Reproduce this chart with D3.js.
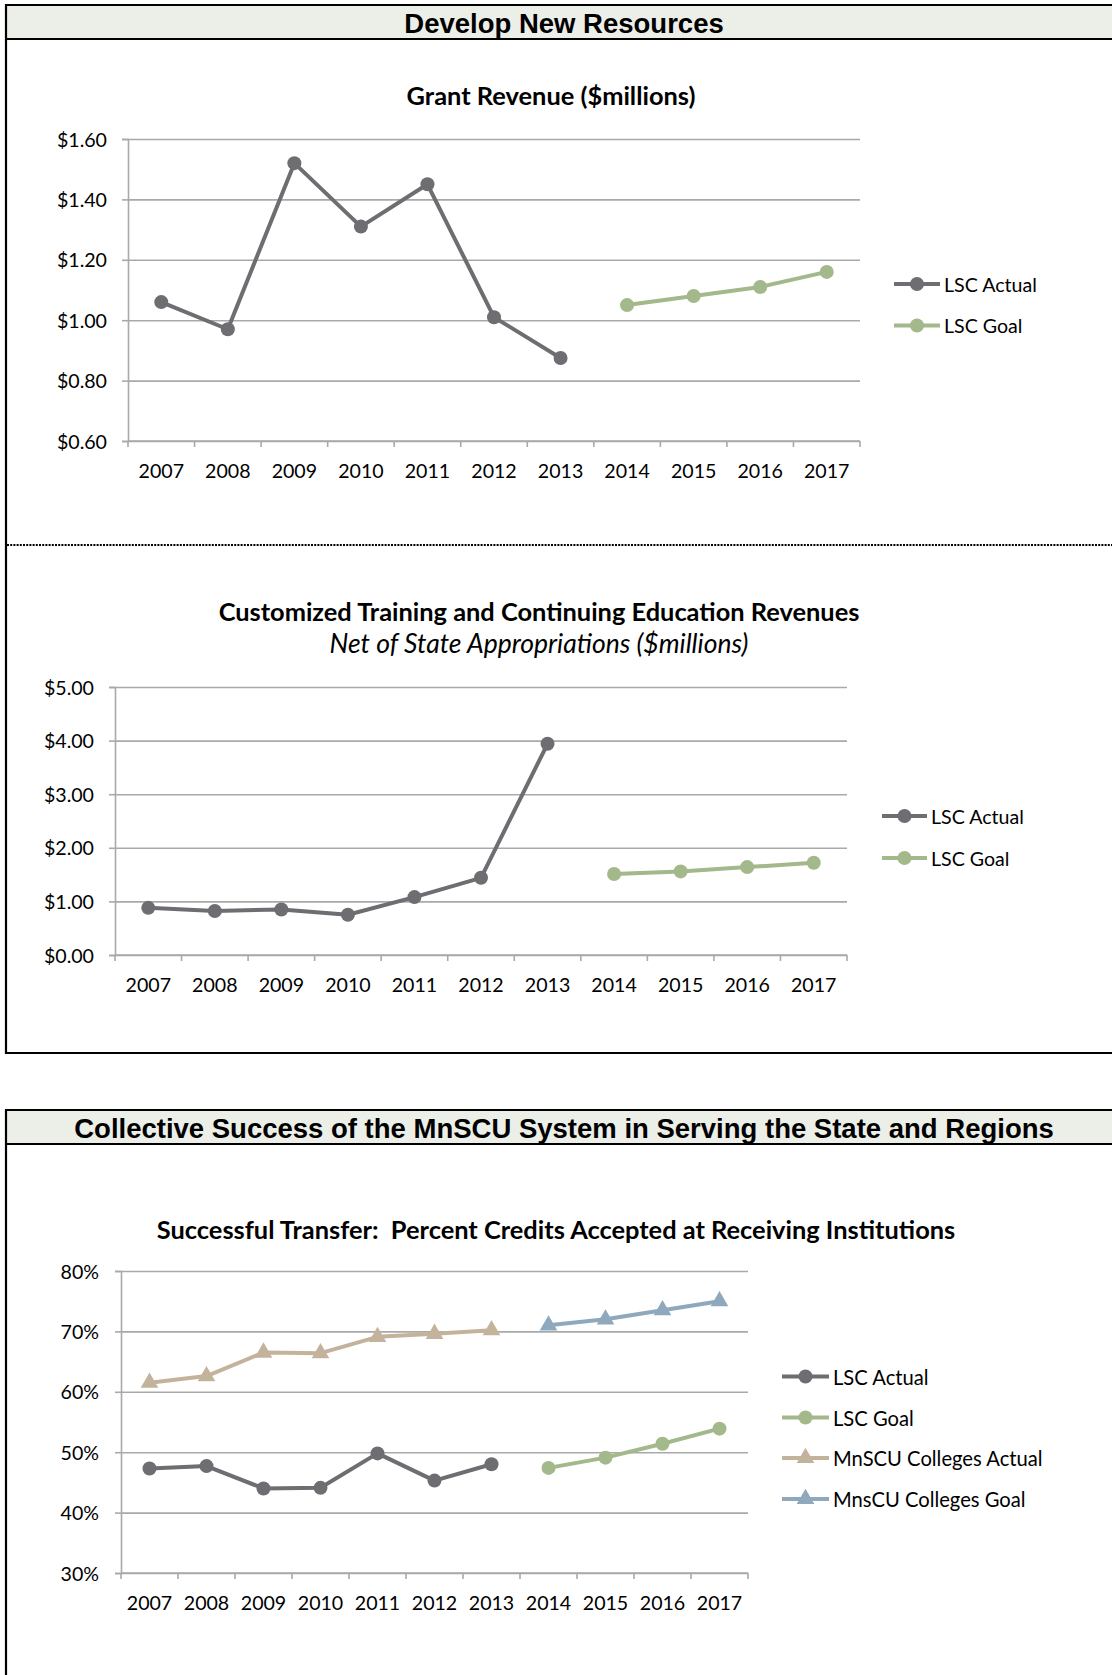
<!DOCTYPE html>
<html>
<head>
<meta charset="utf-8">
<script src="https://cdnjs.cloudflare.com/ajax/libs/d3/7.8.5/d3.min.js"></script>
<style>
  html, body { margin: 0; padding: 0; background: #fff; }
  svg { display: block; }
  text { font-family: Lato, "Open Sans", sans-serif; fill: #000; }
  .hdr { font-family: "Liberation Sans", Arial, sans-serif; font-weight: bold; }
</style>
</head>
<body>
<svg id="c" width="1112" height="1675"></svg>
<script>
// ---------- DATA ----------
const years = ["2007","2008","2009","2010","2011","2012","2013","2014","2015","2016","2017"];
const actualYears = ["2007","2008","2009","2010","2011","2012","2013"];
const goalYears = ["2014","2015","2016","2017"];

// Grant Revenue ($millions)
const grantActual = [1.06, 0.97, 1.52, 1.31, 1.45, 1.01, 0.875];
const grantGoal = [1.05, 1.08, 1.11, 1.16];
const grantTicks = [0.6, 0.8, 1.0, 1.2, 1.4, 1.6];

// Customized Training and Continuing Education Revenues ($millions)
const ctActual = [0.88, 0.82, 0.85, 0.75, 1.08, 1.44, 3.94];
const ctGoal = [1.51, 1.56, 1.64, 1.72];
const ctTicks = [0, 1, 2, 3, 4, 5];

// Successful Transfer (%)
const lscTransferActual = [47.3, 47.7, 44.0, 44.1, 49.8, 45.3, 48.0];
const lscTransferGoal = [47.4, 49.1, 51.4, 53.9];
const mnscuActual = [61.5, 62.6, 66.5, 66.4, 69.1, 69.6, 70.2];
const mnscuGoal = [71.0, 72.0, 73.5, 75.0];
const pctTicks = [30, 40, 50, 60, 70, 80];

const seriesNames = ["LSC Actual", "LSC Goal", "MnSCU Colleges Actual", "MnsCU Colleges Goal"];

// ---------- STYLE ----------
const C_GRAY = "#6d6d72", C_GREEN = "#a3b88b", C_TAN = "#c4b39c", C_BLUE = "#8ea9bd";
const GRID = "#a9a9a9";
const FS = 19.6;
const TFS = 25.4;

const svg = d3.select("#c");

// ---------- FRAMES ----------
function hline(x1, x2, y, w) {
  svg.append("line").attr("x1", x1).attr("x2", x2).attr("y1", y).attr("y2", y)
    .attr("stroke", "#000").attr("stroke-width", w);
}
function vline(x, y1, y2, w) {
  svg.append("line").attr("x1", x).attr("x2", x).attr("y1", y1).attr("y2", y2)
    .attr("stroke", "#000").attr("stroke-width", w);
}
function header(top, bottom, label) {
  svg.append("rect").attr("x", 6).attr("y", top).attr("width", 1112).attr("height", bottom - top)
    .attr("fill", "#eceee8");
  hline(5, 1112, top, 2.2);
  hline(5, 1112, bottom, 2.2);
  svg.append("text").attr("class", "hdr").attr("x", 564).attr("y", (top + bottom) / 2 + 1)
    .attr("text-anchor", "middle").attr("dominant-baseline", "central")
    .attr("font-size", 27.5).text(label);
}
header(5, 39, "Develop New Resources");
vline(6, 4, 1054, 2.2);
hline(5, 1112, 1053, 2.2);
svg.append("line").attr("x1", 7).attr("x2", 1112).attr("y1", 545).attr("y2", 545)
  .attr("stroke", "#000").attr("stroke-width", 2).attr("stroke-dasharray", "2,1.2");

header(1110, 1144, "Collective Success of the MnSCU System in Serving the State and Regions");
vline(6, 1109, 1675, 2.2);

// ---------- CHART ----------
function chart(cfg) {
  const x = d3.scaleBand().domain(years).range([cfg.left, cfg.right]).padding(0);
  const y = d3.scaleLinear().domain(cfg.domain).range([cfg.bottom, cfg.top]);
  const g = svg.append("g");

  // gridlines
  g.append("g").attr("transform", `translate(${cfg.left},0)`)
    .call(d3.axisLeft(y).tickValues(cfg.ticks).tickSize(-(cfg.right - cfg.left)).tickFormat(""))
    .call(s => s.select(".domain").remove())
    .call(s => s.selectAll("line").attr("stroke", GRID).attr("stroke-width", 1.6));

  // y axis (outer ticks + labels)
  g.append("g").attr("transform", `translate(${cfg.left},0)`)
    .call(d3.axisLeft(y).tickValues(cfg.ticks).tickSize(6).tickPadding(cfg.ypad).tickFormat(cfg.fmt))
    .call(s => s.select(".domain").attr("stroke", GRID).attr("stroke-width", 1.6))
    .call(s => s.selectAll("line").attr("stroke", GRID).attr("stroke-width", 1.6))
    .call(s => s.selectAll("text").attr("font-size", FS).attr("fill", "#000")
      .attr("font-family", "Lato, sans-serif").attr("dy", "0.36em"));

  // x axis baseline with category boundary ticks
  const bounds = years.map(d => x(d)).concat([cfg.right]);
  g.append("line").attr("x1", cfg.left).attr("x2", cfg.right)
    .attr("y1", cfg.bottom).attr("y2", cfg.bottom).attr("stroke", GRID).attr("stroke-width", 1.6);
  g.selectAll(".bt").data(bounds).join("line")
    .attr("x1", d => d).attr("x2", d => d)
    .attr("y1", cfg.bottom).attr("y2", cfg.bottom + 6)
    .attr("stroke", GRID).attr("stroke-width", 1.6);
  // year labels
  g.append("g").attr("transform", `translate(0,${cfg.bottom})`)
    .call(d3.axisBottom(x).tickSize(0).tickPadding(cfg.xpad))
    .call(s => s.select(".domain").remove())
    .call(s => s.selectAll("text").attr("font-size", FS).attr("fill", "#000")
      .attr("font-family", "Lato, sans-serif"));

  // series
  const cx = d => x(d) + x.bandwidth() / 2;
  cfg.series.forEach(sr => {
    const pts = sr.years.map((yr, i) => [cx(yr), y(sr.values[i])]);
    g.append("path").attr("d", d3.line()(pts)).attr("fill", "none")
      .attr("stroke", sr.color).attr("stroke-width", 4).attr("stroke-linejoin", "round");
    drawMarkers(g, pts, sr);
  });

  // legend
  cfg.series.forEach((sr, i) => {
    const ly = cfg.legendY[i];
    const lg = svg.append("g");
    lg.append("line").attr("x1", cfg.legendX).attr("x2", cfg.legendX + cfg.legendLen)
      .attr("y1", ly).attr("y2", ly).attr("stroke", sr.color).attr("stroke-width", 4);
    drawMarkers(lg, [[cfg.legendX + cfg.legendLen / 2, ly]], sr);
    lg.append("text").attr("x", cfg.legendX + cfg.legendLen + 4).attr("y", ly)
      .attr("dominant-baseline", "central").attr("font-size", cfg.legendFS || FS).text(sr.name);
  });

  // titles
  svg.append("text").attr("x", cfg.titleX).attr("y", cfg.titleY)
    .attr("text-anchor", "middle").attr("dominant-baseline", "central")
    .style("white-space", "pre")
    .attr("font-size", TFS).attr("font-weight", "bold").text(cfg.title);
  if (cfg.subtitle) {
    svg.append("text").attr("x", cfg.titleX).attr("y", cfg.subtitleY)
      .attr("text-anchor", "middle").attr("dominant-baseline", "central")
      .attr("font-size", 26.5).attr("font-style", "italic").text(cfg.subtitle);
  }
}

function drawMarkers(g, pts, sr) {
  if (sr.shape === "tri") {
    const sym = d3.symbol().type(d3.symbolTriangle).size(135);
    g.selectAll(null).data(pts).join("path")
      .attr("d", sym).attr("transform", d => `translate(${d[0]},${d[1]})`).attr("fill", sr.color);
  } else {
    g.selectAll(null).data(pts).join("circle")
      .attr("cx", d => d[0]).attr("cy", d => d[1]).attr("r", 7).attr("fill", sr.color);
  }
}

const money = d => "$" + d3.format(".2f")(d);

chart({
  left: 128, right: 860, top: 139, bottom: 441,
  domain: [0.6, 1.6], ticks: grantTicks, fmt: money, ypad: 15, xpad: 23,
  title: "Grant Revenue ($millions)", titleX: 551, titleY: 95,
  legendX: 894, legendLen: 46, legendY: [284, 325.5],
  series: [
    { name: seriesNames[0], years: actualYears, values: grantActual, color: C_GRAY, shape: "circle" },
    { name: seriesNames[1], years: goalYears, values: grantGoal, color: C_GREEN, shape: "circle" }
  ]
});

chart({
  left: 115, right: 847, top: 687, bottom: 955,
  domain: [0, 5], ticks: ctTicks, fmt: money, ypad: 15, xpad: 23,
  title: "Customized Training and Continuing Education Revenues", titleX: 539, titleY: 611,
  subtitle: "Net of State Appropriations ($millions)", subtitleY: 643,
  legendX: 882, legendLen: 45, legendY: [816, 858],
  series: [
    { name: seriesNames[0], years: actualYears, values: ctActual, color: C_GRAY, shape: "circle" },
    { name: seriesNames[1], years: goalYears, values: ctGoal, color: C_GREEN, shape: "circle" }
  ]
});

chart({
  left: 121, right: 748, top: 1271, bottom: 1573,
  domain: [30, 80], ticks: pctTicks, fmt: d => d + "%", ypad: 16, xpad: 23,
  title: "Successful Transfer:  Percent Credits Accepted at Receiving Institutions", titleX: 556, titleY: 1229,
  legendX: 782, legendLen: 47, legendY: [1376.5, 1417.5, 1458, 1499], legendFS: 20.2,
  series: [
    { name: seriesNames[0], years: actualYears, values: lscTransferActual, color: C_GRAY, shape: "circle" },
    { name: seriesNames[1], years: goalYears, values: lscTransferGoal, color: C_GREEN, shape: "circle" },
    { name: seriesNames[2], years: actualYears, values: mnscuActual, color: C_TAN, shape: "tri" },
    { name: seriesNames[3], years: goalYears, values: mnscuGoal, color: C_BLUE, shape: "tri" }
  ]
});
</script>
</body>
</html>
